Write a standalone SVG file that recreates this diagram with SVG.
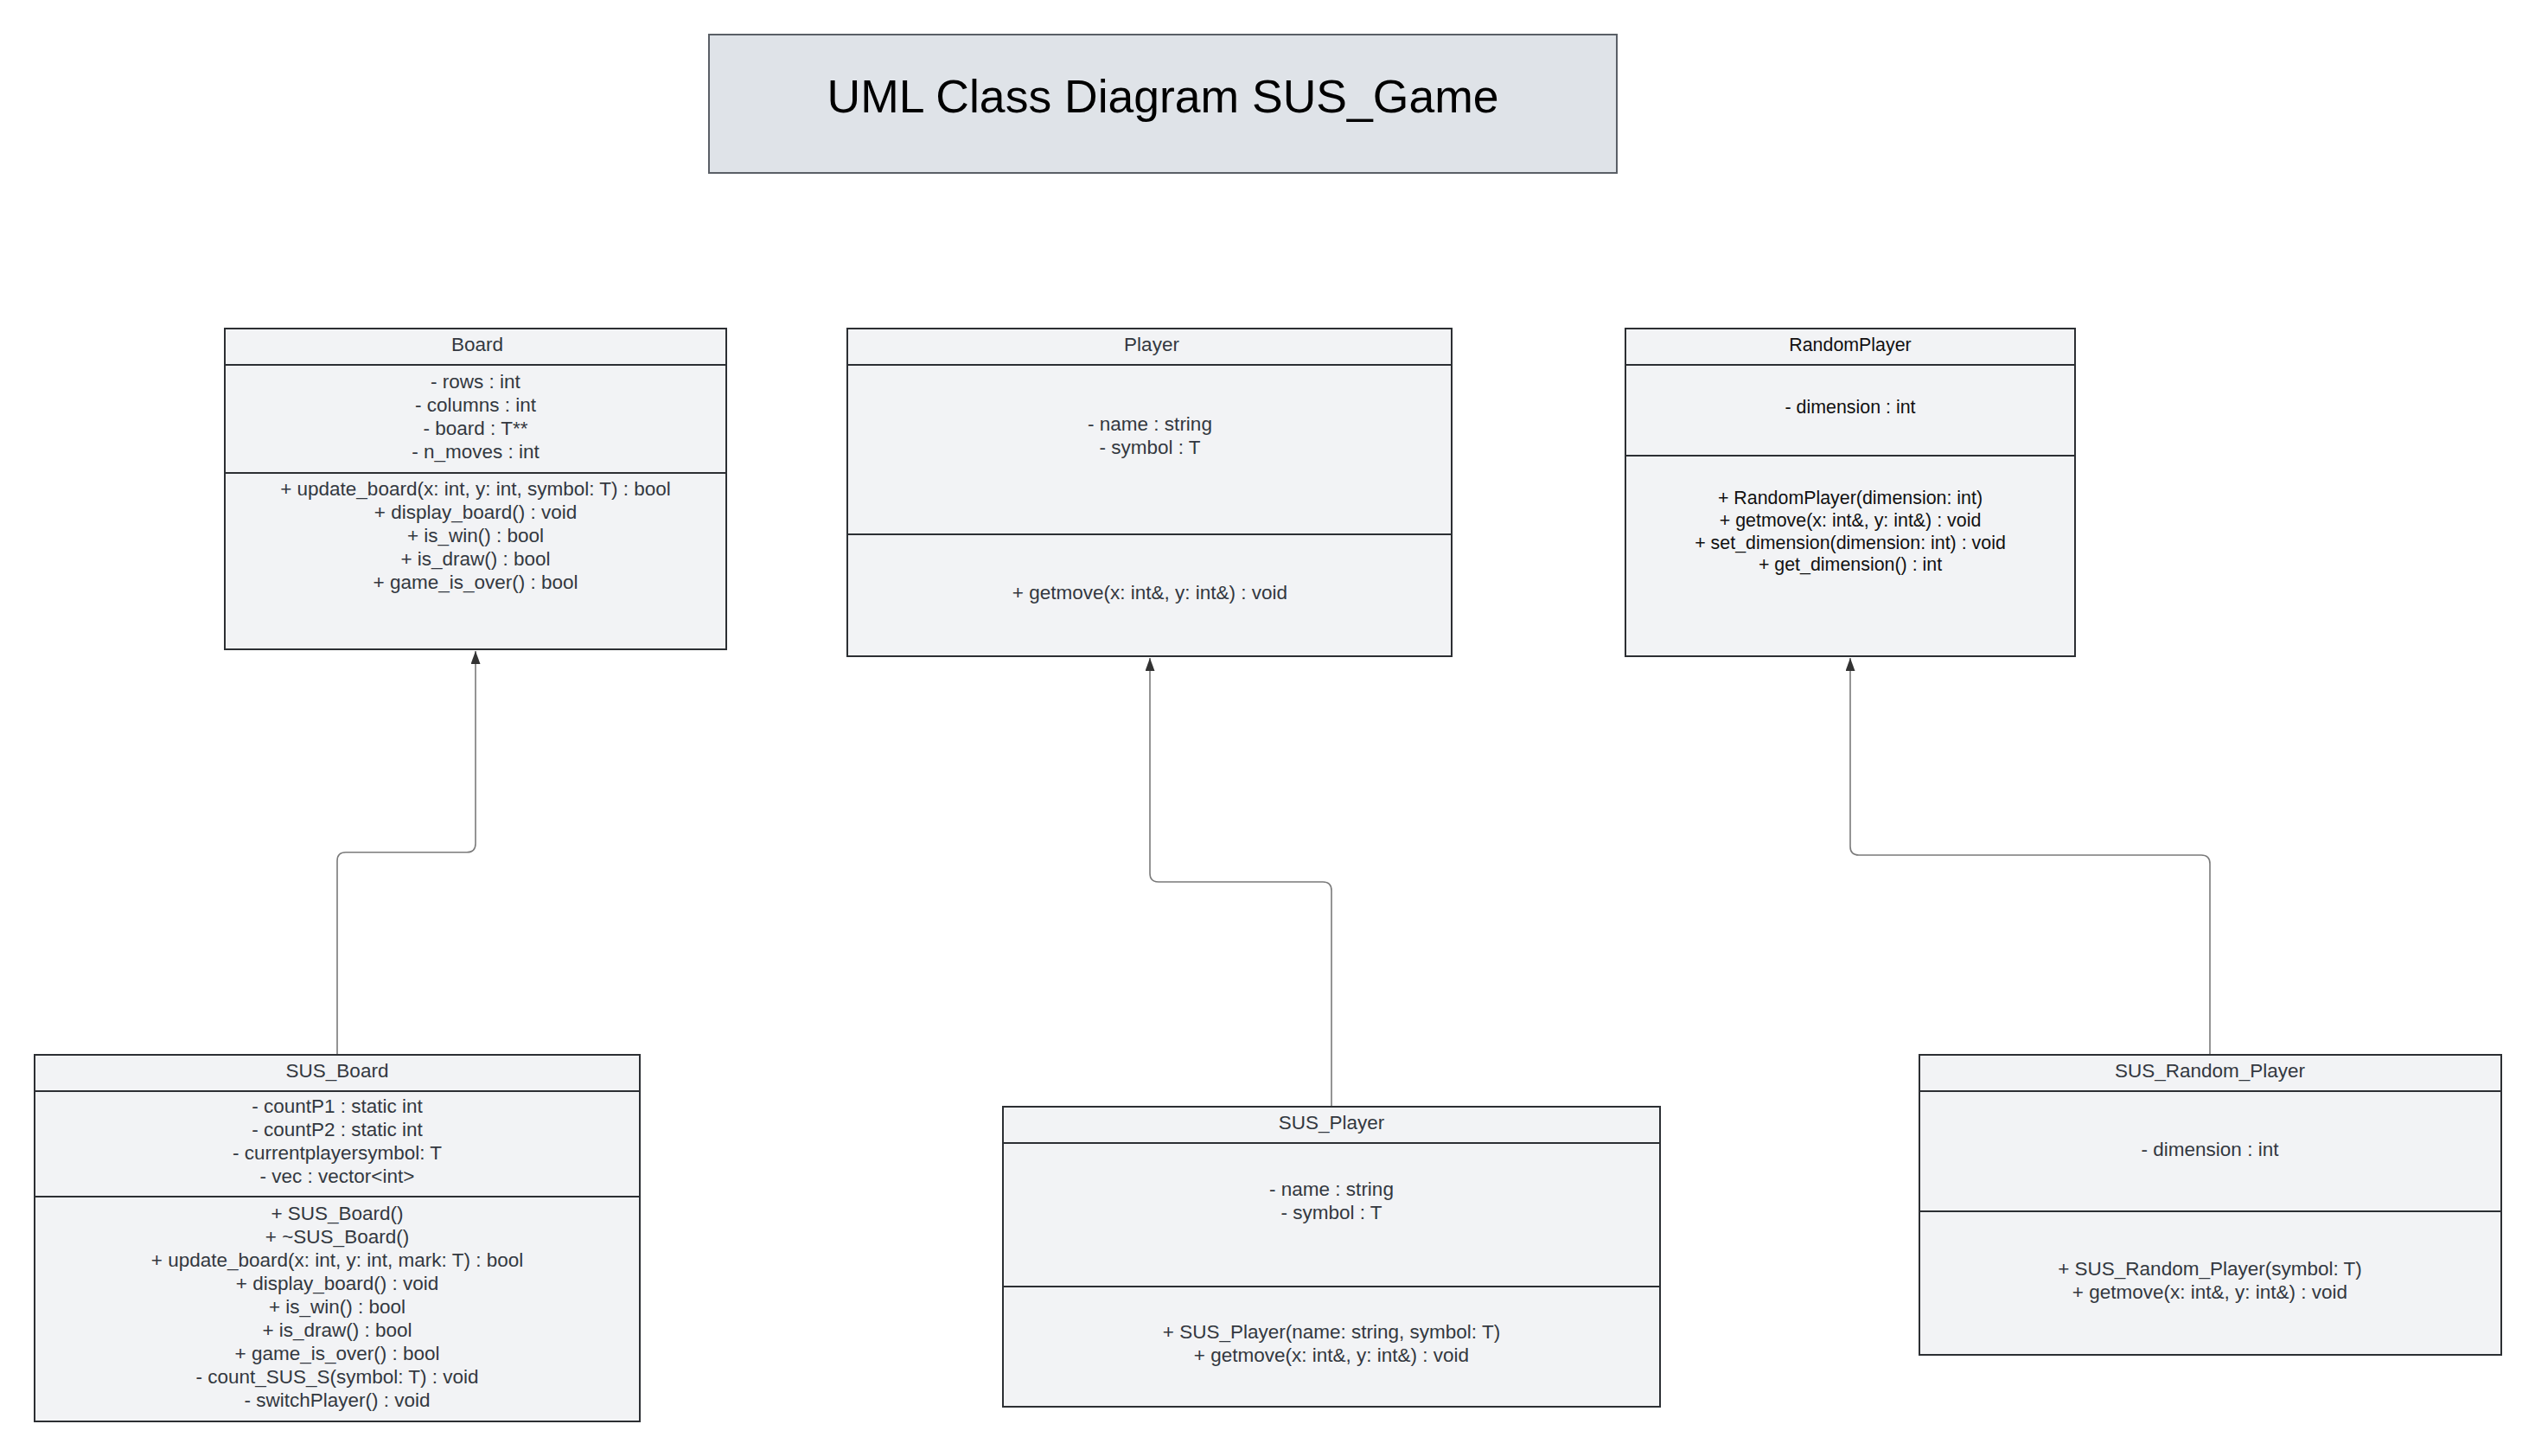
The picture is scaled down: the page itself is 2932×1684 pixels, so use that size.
<svg xmlns="http://www.w3.org/2000/svg" width="2932" height="1684" viewBox="0 0 2932 1684">
<style>
.box{fill:#f2f3f5;stroke:#2c2f33;stroke-width:2}
.div{stroke:#2c2f33;stroke-width:2}
.t{font-family:"Liberation Sans",Arial,sans-serif;font-size:22.5px;fill:#333840;text-anchor:middle}
.tb{font-family:"Liberation Sans",Arial,sans-serif;font-size:21.4px;fill:#111111;text-anchor:middle}
.title{font-family:"Liberation Sans",Arial,sans-serif;font-size:53.5px;fill:#000000;text-anchor:middle}
.conn{fill:none;stroke:#7a7a7a;stroke-width:1.6}
</style>
<defs>
<marker id="arrow" markerUnits="userSpaceOnUse" viewBox="0 0 15 11" refX="15" refY="5.5" markerWidth="15" markerHeight="11" orient="auto">
<path d="M0,0 L15,5.5 L0,11 Z" fill="#333333"/>
</marker>
</defs>
<rect width="2932" height="1684" fill="#ffffff"/>

<g id="title">
<rect x="820" y="40" width="1050" height="160" fill="#dfe3e8" stroke="#5a5f66" stroke-width="2"/>
<text class="title" x="1345" y="130">UML Class Diagram SUS_Game</text>
</g>

<g id="connectors">
<path class="conn" d="M390,1220 V995.7 Q390,985.7 400,985.7 H540 Q550,985.7 550,975.7 V753" marker-end="url(#arrow)"/>
<path class="conn" d="M1540,1280 V1030 Q1540,1020 1530,1020 H1340 Q1330,1020 1330,1010 V761" marker-end="url(#arrow)"/>
<path class="conn" d="M2556,1220 V999 Q2556,989 2546,989 H2150 Q2140,989 2140,979 V761" marker-end="url(#arrow)"/>
</g>

<g id="Board">
<rect class="box" x="260" y="380" width="580" height="371"/>
<line class="div" x1="260" y1="422" x2="840" y2="422"/>
<line class="div" x1="260" y1="547" x2="840" y2="547"/>
<text class="t" x="552" y="406">Board</text>
<text class="t" x="550" y="449">- rows : int</text>
<text class="t" x="550" y="476">- columns : int</text>
<text class="t" x="550" y="503">- board : T**</text>
<text class="t" x="550" y="530">- n_moves : int</text>
<text class="t" x="550" y="573">+ update_board(x: int, y: int, symbol: T) : bool</text>
<text class="t" x="550" y="600">+ display_board() : void</text>
<text class="t" x="550" y="627">+ is_win() : bool</text>
<text class="t" x="550" y="654">+ is_draw() : bool</text>
<text class="t" x="550" y="681">+ game_is_over() : bool</text>
</g>

<g id="Player">
<rect class="box" x="980" y="380" width="699" height="379"/>
<line class="div" x1="980" y1="422" x2="1679" y2="422"/>
<line class="div" x1="980" y1="618" x2="1679" y2="618"/>
<text class="t" x="1332" y="406">Player</text>
<text class="t" x="1330" y="498">- name : string</text>
<text class="t" x="1330" y="525">- symbol : T</text>
<text class="t" x="1330" y="693">+ getmove(x: int&amp;, y: int&amp;) : void</text>
</g>

<g id="RandomPlayer">
<rect class="box" x="1880" y="380" width="520" height="379"/>
<line class="div" x1="1880" y1="422" x2="2400" y2="422"/>
<line class="div" x1="1880" y1="527" x2="2400" y2="527"/>
<text class="tb" x="2140" y="406">RandomPlayer</text>
<text class="tb" x="2140" y="478">- dimension : int</text>
<text class="tb" x="2140" y="583">+ RandomPlayer(dimension: int)</text>
<text class="tb" x="2140" y="609">+ getmove(x: int&amp;, y: int&amp;) : void</text>
<text class="tb" x="2140" y="635">+ set_dimension(dimension: int) : void</text>
<text class="tb" x="2140" y="660">+ get_dimension() : int</text>
</g>

<g id="SUS_Board">
<rect class="box" x="40" y="1220" width="700" height="424"/>
<line class="div" x1="40" y1="1262" x2="740" y2="1262"/>
<line class="div" x1="40" y1="1384" x2="740" y2="1384"/>
<text class="t" x="390" y="1246">SUS_Board</text>
<text class="t" x="390" y="1287">- countP1 : static int</text>
<text class="t" x="390" y="1314">- countP2 : static int</text>
<text class="t" x="390" y="1341">- currentplayersymbol: T</text>
<text class="t" x="390" y="1368">- vec : vector&lt;int&gt;</text>
<text class="t" x="390" y="1411">+ SUS_Board()</text>
<text class="t" x="390" y="1438">+ ~SUS_Board()</text>
<text class="t" x="390" y="1465">+ update_board(x: int, y: int, mark: T) : bool</text>
<text class="t" x="390" y="1492">+ display_board() : void</text>
<text class="t" x="390" y="1519">+ is_win() : bool</text>
<text class="t" x="390" y="1546">+ is_draw() : bool</text>
<text class="t" x="390" y="1573">+ game_is_over() : bool</text>
<text class="t" x="390" y="1600">- count_SUS_S(symbol: T) : void</text>
<text class="t" x="390" y="1627">- switchPlayer() : void</text>
</g>

<g id="SUS_Player">
<rect class="box" x="1160" y="1280" width="760" height="347"/>
<line class="div" x1="1160" y1="1322" x2="1920" y2="1322"/>
<line class="div" x1="1160" y1="1488" x2="1920" y2="1488"/>
<text class="t" x="1540" y="1306">SUS_Player</text>
<text class="t" x="1540" y="1383">- name : string</text>
<text class="t" x="1540" y="1410">- symbol : T</text>
<text class="t" x="1540" y="1548">+ SUS_Player(name: string, symbol: T)</text>
<text class="t" x="1540" y="1575">+ getmove(x: int&amp;, y: int&amp;) : void</text>
</g>

<g id="SUS_Random_Player">
<rect class="box" x="2220" y="1220" width="673" height="347"/>
<line class="div" x1="2220" y1="1262" x2="2893" y2="1262"/>
<line class="div" x1="2220" y1="1401" x2="2893" y2="1401"/>
<text class="t" x="2556" y="1246">SUS_Random_Player</text>
<text class="t" x="2556" y="1337">- dimension : int</text>
<text class="t" x="2556" y="1475">+ SUS_Random_Player(symbol: T)</text>
<text class="t" x="2556" y="1502">+ getmove(x: int&amp;, y: int&amp;) : void</text>
</g>
</svg>
